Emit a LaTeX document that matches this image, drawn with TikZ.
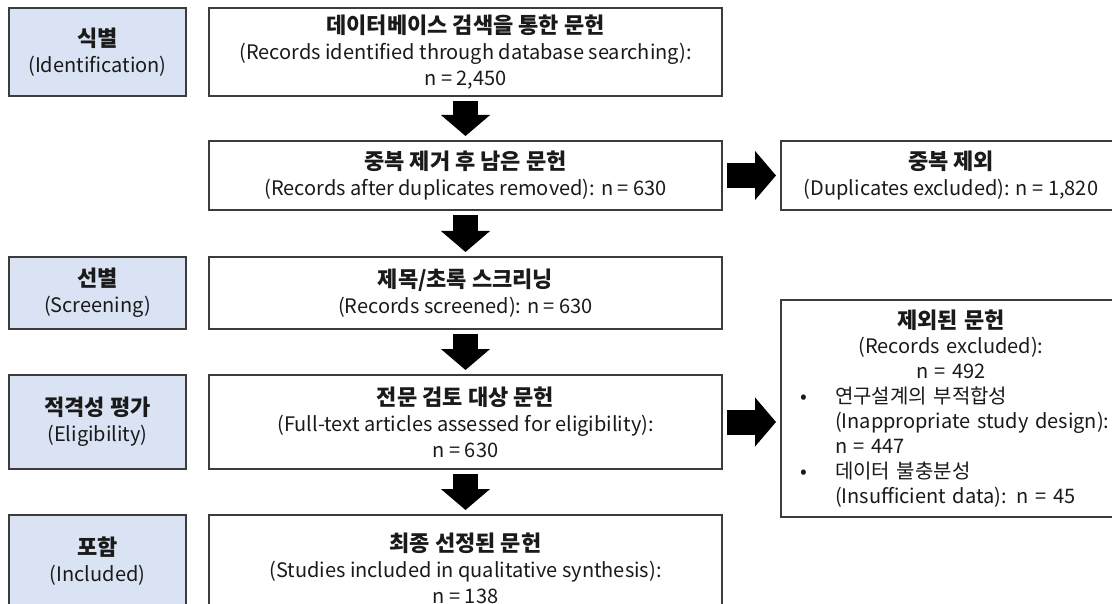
\documentclass[tikz,border=0pt]{standalone}
\usepackage{fontspec}
\setmainfont{Noto Sans CJK KR}
\usetikzlibrary{arrows.meta}
\definecolor{stagefill}{HTML}{DAE3F3}
\definecolor{edgec}{HTML}{3C3C3C}
\definecolor{textc}{HTML}{1A1A1A}
\newcommand\headtxt[1]{{\fontsize{22}{26}\selectfont\bfseries #1}}
\begin{document}
\begin{tikzpicture}[x=1pt,y=-1pt,
  box/.style={draw=edgec, line width=2pt, fill=white, inner sep=0pt, align=center,
    text=textc, font=\fontsize{20}{26}\selectfont},
  mainbox/.style={box, minimum width=513pt},
  stage/.style={box, fill=stagefill, minimum width=177pt},
  bigarrow/.style={draw=black, line width=25pt, -{Triangle[length=21pt,width=48pt]},
    shorten <=4pt, shorten >=4pt}]
\useasboundingbox (0,0) rectangle (1112,604);
\clip (0,0) rectangle (1112,604);
\fill[white] (0,0) rectangle (1112,604);

% stage labels
\node[stage, minimum height=88pt] (l1) at (97.5,52) {\headtxt{식별}\\(Identification)};
\node[stage, minimum height=72pt] (l2) at (97.5,293) {\headtxt{선별}\\(Screening)};
\node[stage, minimum height=94pt] (l3) at (97.5,422) {\headtxt{적격성 평가}\\(Eligibility)};
\node[stage, minimum height=92pt] (l4) at (97.5,561) {\headtxt{포함}\\(Included)};

% main flow
\node[mainbox, minimum height=88pt] (m1) at (465.5,52)
  {\headtxt{데이터베이스 검색을 통한 문헌}\\(Records identified through database searching):\\n = 2,450};
\node[mainbox, minimum height=69pt] (m2) at (465.5,175.5)
  {\headtxt{중복 제거 후 남은 문헌}\\(Records after duplicates removed): n = 630};
\node[mainbox, minimum height=72pt] (m3) at (465.5,293)
  {\headtxt{제목/초록 스크리닝}\\(Records screened): n = 630};
\node[mainbox, minimum height=94pt] (m4) at (465.5,422)
  {\headtxt{전문 검토 대상 문헌}\\(Full-text articles assessed for eligibility):\\n = 630};
\node[mainbox, minimum height=106pt] (m5) at (465.5,568)
  {\headtxt{최종 선정된 문헌}\\(Studies included in qualitative synthesis):\\n = 138};

% side boxes
\node[box, minimum width=340pt, minimum height=69pt] (r1) at (951,175.5)
  {\headtxt{중복 제외}\\(Duplicates excluded): n = 1,820};
\node[box, text width=320pt, inner xsep=10pt, inner ysep=0pt, minimum height=217pt,
  align=left, font=\fontsize{20}{25}\selectfont] (r2) at (951,408.5) {%
  {\centering\headtxt{제외된 문헌}\\(Records excluded):\\n = 492\par}
  \leftskip=44pt
  \noindent\llap{\makebox[44pt][l]{\hspace{9pt}•}}연구설계의 부적합성\\\mbox{(Inappropriate study design):}\\n = 447\par
  \noindent\llap{\makebox[44pt][l]{\hspace{9pt}•}}데이터 불충분성\\\mbox{(Insufficient data): n = 45}\par};

% arrows
\draw[bigarrow] (m1) -- (m2);
\draw[bigarrow] (m2) -- (m3);
\draw[bigarrow] (m3) -- (m4);
\draw[bigarrow] (m4) -- (m5);
\draw[bigarrow] (m2) -- (r1);
\draw[bigarrow] (m4.east) -- (m4.east -| r2.west);
\end{tikzpicture}
\end{document}
